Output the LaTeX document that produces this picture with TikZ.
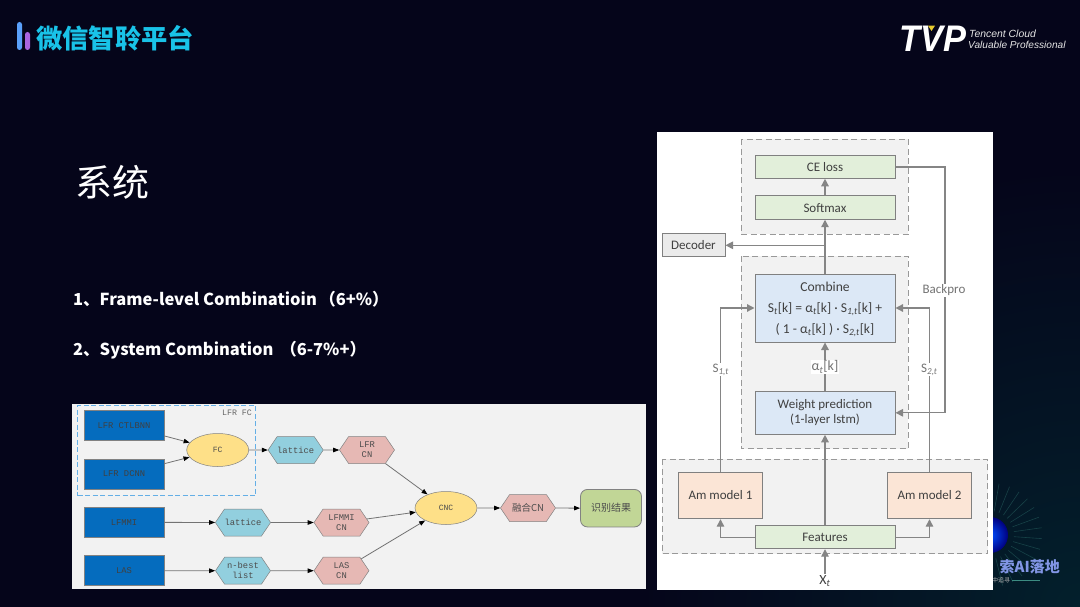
\documentclass[tikz,border=0pt]{standalone}
\usepackage{fontspec}
\usepackage{tikz}
\usetikzlibrary{arrows.meta,calc,positioning,shapes.geometric,shapes.symbols}
\setmainfont{Carlito}
\newfontfamily\cjk{Noto Sans CJK SC}
\newfontfamily\monof{Liberation Mono}
\newfontfamily\logof{Liberation Sans}
\definecolor{pagebg}{RGB}{5,5,26}
\definecolor{pagedeep}{RGB}{3,32,44}
\definecolor{cyantitle}{RGB}{25,195,232}
\definecolor{barblue}{RGB}{90,160,250}
\definecolor{barpurple}{RGB}{170,100,225}
\definecolor{panelgray}{RGB}{242,242,242}
\definecolor{fcdash}{RGB}{100,175,230}
\definecolor{boxblue}{RGB}{5,108,190}
\definecolor{hexteal}{RGB}{146,207,222}
\definecolor{hexpink}{RGB}{230,184,180}
\definecolor{ovalyellow}{RGB}{254,224,136}
\definecolor{resgreen}{RGB}{193,214,150}
\definecolor{edgegray}{RGB}{130,130,130}
\definecolor{blockgreen}{RGB}{226,239,218}
\definecolor{blockblue}{RGB}{220,232,246}
\definecolor{blockpeach}{RGB}{251,229,214}
\definecolor{inkgray}{RGB}{64,64,64}
\definecolor{stampblue}{RGB}{130,150,230}
\definecolor{raygreen}{RGB}{60,140,130}
\tikzset{
  lowbox/.style={draw=edgegray,line width=.8pt,fill=boxblue,minimum width=80pt,minimum height=30pt,inner sep=0pt,font=\monof\fontsize{8.8}{10}\selectfont,text=black!75},
  lowhexa/.style={draw=edgegray,line width=.5pt,signal,signal to=west and east,signal pointer angle=112,fill=hexteal,minimum width=55pt,minimum height=27pt,inner sep=0pt,font=\monof\fontsize{8.8}{10}\selectfont,text=black!70,align=center},
  lowhexb/.style={lowhexa,fill=hexpink},
  lowoval/.style={draw=edgegray,line width=.5pt,ellipse,fill=ovalyellow,minimum width=62pt,minimum height=33pt,inner sep=0pt,font=\monof\fontsize{8}{10}\selectfont,text=black!70},
  lowlink/.style={draw=black!55,line width=.8pt,-{Triangle[length=6pt,width=4.5pt,color=black]}},
  dashfr/.style={draw=black!40,line width=.9pt,dash pattern=on 6pt off 3.5pt,fill=panelgray},
  block/.style={draw=black!50,line width=1pt,minimum width=140pt,inner sep=0pt,font=\fontsize{13}{15}\selectfont,text=inkgray,align=center},
  link/.style={draw=black!48,line width=1.3pt,-{Triangle[length=7.5pt,width=7.5pt]}},
  plainlink/.style={draw=black!48,line width=1.3pt},
  tag/.style={font=\fontsize{13}{15}\selectfont,text=black!55,fill=white,inner sep=1pt},
  page/.style={font=\cjk\bfseries\fontsize{16.5}{20}\selectfont,text=white,anchor=base west,inner sep=0pt}
}
\begin{document}
\begin{tikzpicture}[x=1pt,y=-1pt]
  % page and corners
  \useasboundingbox (0,0) rectangle (1080,607);
  \fill[pagebg] (0,0) rectangle (1080,607);
  \shade[inner color=pagedeep,outer color=pagebg] (1080,607) circle (440);
  \fill[barblue,rounded corners=2.5pt] (17,22) rectangle (22,50);
  \fill[barpurple,rounded corners=2.5pt] (25,32) rectangle (30,50);
  \node[font=\cjk\bfseries\fontsize{26.3}{28}\selectfont,text=cyantitle,anchor=west,inner sep=0pt] (brand) at (36,38) {微信智聆平台};
  \node[font=\logof\bfseries\itshape\fontsize{37}{37}\selectfont,text=white,anchor=west,inner sep=0pt,xscale=.93] (logo) at (899,39) {TVP};
  \fill[yellow!60!brown] (928,25.7) -- (935,25.7) -- (931.5,31) -- cycle;
  \node[font=\logof\itshape\fontsize{10.4}{10.4}\selectfont,text=white!90!black,anchor=west,inner sep=0pt] (logoa) at (969,34) {Tencent Cloud};
  \node[font=\logof\itshape\fontsize{10.1}{10.1}\selectfont,text=white!90!black,anchor=west,inner sep=0pt] (logob) at (968,44.5) {Valuable Professional};
  \node[font=\cjk\fontsize{37}{38}\selectfont,text=white,anchor=west,inner sep=0pt] (sys) at (75,182) {系统};
  \node[page] (ptone) at (73,305) {1、Frame-level Combinatioin\hspace{2.5pt}（6+\%）};
  \node[page] (pttwo) at (73,355) {2、System Combination \hspace{3pt}（6-7\%+）};
  \foreach \a in {-80,-68,...,80}{\draw[raygreen,opacity=.35,line width=.6pt] (990,535) ++(\a:24) -- ++(\a:28);}
  \shade[inner color=blue!70!cyan,outer color=blue!50!black] (990,535) circle (18);
  \node[font=\cjk\bfseries\fontsize{15}{15}\selectfont,text=stampblue,anchor=east,inner sep=0pt] (stamp) at (1060,567) {索AI落地};
  \node[font=\cjk\fontsize{6}{6}\selectfont,text=white!70!black,anchor=west,inner sep=0pt] (stampsub) at (992,580) {中追寻};
  \coordinate (subend) at (1040,580);
  \draw[raygreen,line width=.6pt] (stampsub.east) ++(2,0) -- (subend);

  % lower left chart
  \fill[panelgray] (72,404) rectangle (646,589);
  \node[draw=fcdash,line width=1.4pt,dash pattern=on 5pt off 2.5pt,minimum width=178pt,minimum height=90pt,inner sep=0pt] (fcbox) at (166.6,450.5) {};
  \node[font=\monof\fontsize{8.3}{10}\selectfont,text=black!60] (fclabel) at (237,413) {LFR FC};
  \node[lowbox] (ctl) at (124,425.3) {LFR CTLBNN};
  \node[lowbox] (dcnn) at (124,474) {LFR DCNN};
  \node[lowbox] (mmi) at (124,522.3) {LFMMI};
  \node[lowbox] (las) at (124,570.8) {LAS};
  \node[lowoval] (fc) at (217.7,450) {FC};
  \node[lowhexa] (lata) at (295.7,450) {lattice};
  \node[lowhexb] (cna) at (367,450) {LFR\\CN};
  \node[lowhexa] (latb) at (243,522.5) {lattice};
  \node[lowhexb] (cnb) at (341.5,522.5) {LFMMI\\CN};
  \node[lowhexa] (nbest) at (243,570.7) {n-best\\list};
  \node[lowhexb] (cnc) at (341.5,570.7) {LAS\\CN};
  \node[lowoval] (cncoval) at (446,508) {CNC};
  \node[lowhexb,font=\cjk\fontsize{9.5}{10}\selectfont] (fuse) at (528,508) {融合CN};
  \node[draw=edgegray,line width=.8pt,fill=resgreen,rounded corners=7pt,minimum width=61pt,minimum height=37.5pt,inner sep=0pt,font=\cjk\fontsize{10}{10}\selectfont,text=black!70] (result) at (611,508.2) {识别结果};
  \draw[lowlink] (ctl) -- (fc);
  \draw[lowlink] (dcnn) -- (fc);
  \draw[lowlink] (fc) -- (lata);
  \draw[lowlink] (lata) -- (cna);
  \draw[lowlink] (mmi) -- (latb);
  \draw[lowlink] (latb) -- (cnb);
  \draw[lowlink] (las) -- (nbest);
  \draw[lowlink] (nbest) -- (cnc);
  \draw[lowlink] (cna) -- (cncoval);
  \draw[lowlink] (cnb) -- (cncoval);
  \draw[lowlink] (cnc) -- (cncoval);
  \draw[lowlink] (cncoval) -- (fuse);
  \draw[lowlink] (fuse) -- (result);

  % right chart
  \fill[white] (657,132) rectangle (993,589.5);
  \draw[dashfr] (741,139.3) rectangle (908.3,234.3);
  \draw[dashfr] (741,256) rectangle (908.3,448.7);
  \draw[dashfr] (662,459.3) rectangle (987.7,553.7);
  \node[block,fill=blockgreen,minimum height=22.6pt] (ce) at (825,167) {CE loss};
  \node[block,fill=blockgreen,minimum height=23.3pt] (soft) at (825,207.6) {Softmax};
  \node[block,fill=black!8,minimum width=63pt,minimum height=22.7pt] (dec) at (693.5,245.3) {Decoder};
  \node[block,fill=blockblue,minimum height=68pt,font=\fontsize{13.6}{15}\selectfont] (comb) at (825,308) {\rule{0pt}{12pt}Combine\\[6pt]S\textsubscript{\itshape t}[k] = α\textsubscript{\itshape t}[k] · S\textsubscript{\itshape 1,t}[k] +\\[6pt]( 1 - α\textsubscript{\itshape t}[k] ) · S\textsubscript{\itshape 2,t}[k]};
  \node[block,fill=blockblue,minimum height=43pt] (wp) at (825,412.8) {Weight prediction\\(1-layer lstm)};
  \node[block,fill=blockpeach,minimum width=83.6pt,minimum height=46.4pt] (ama) at (720.5,495.5) {Am model 1};
  \node[block,fill=blockpeach,minimum width=83.6pt,minimum height=46.4pt] (amb) at (929.5,495.5) {Am model 2};
  \node[block,fill=blockgreen,minimum height=23pt] (feat) at (825,537.2) {Features};
  \node[font=\fontsize{14}{15}\selectfont,text=inkgray,inner sep=1pt] (xt) at (825,581) {X\textsubscript{\itshape t}};
  \coordinate (split) at (825,245.3);
  \draw[link] (soft) -- (ce);
  \draw[plainlink] (comb) -- (split);
  \draw[link] (split) -- (soft);
  \draw[link] (split) -- (dec);
  \draw[link] (feat) -- (wp);
  \draw[link] (xt) -- (feat);
  \draw[link] (wp) -- (comb);
  \draw[link] (ama.north) |- (comb.west);
  \draw[link] (amb.north) |- (comb.east);
  \draw[link] (ce.east) -| (945,412.8) -- (wp.east);
  \draw[link] (feat.west) -| (ama.south);
  \draw[link] (feat.east) -| (amb.south);
  \node[tag] (sonet) at (720.7,369.5) {S\textsubscript{\itshape 1,t}};
  \node[tag] (stwot) at (929.3,369.5) {S\textsubscript{\itshape 2,t}};
  \node[tag,font=\fontsize{14}{15}\selectfont] (alpha) at (825,367) {α\textsubscript{\itshape t}[k]};
  \node[tag] (back) at (944,290.5) {Backpro};
\end{tikzpicture}
\end{document}
